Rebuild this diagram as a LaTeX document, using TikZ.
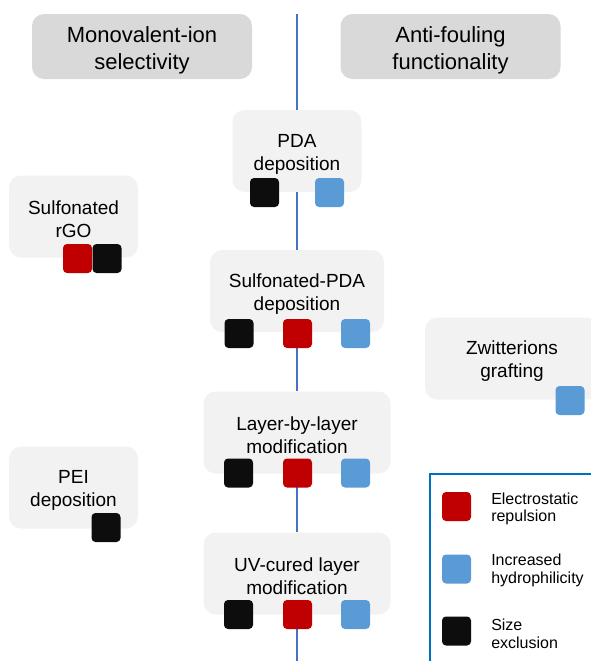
\documentclass[tikz,border=0pt]{standalone}
\usepackage{fontspec}
\setmainfont{Liberation Sans}
\definecolor{hdrgray}{HTML}{D9D9D9}
\definecolor{boxgray}{HTML}{F2F2F2}
\definecolor{sqred}{HTML}{C00000}
\definecolor{sqblue}{HTML}{5B9BD5}
\definecolor{sqblack}{HTML}{0D0D0D}
\definecolor{spineblue}{HTML}{4472C4}
\definecolor{legblue}{HTML}{0070C0}
\begin{document}
\begin{tikzpicture}[x=0.75pt,y=-0.75pt,
  header/.style={fill=hdrgray,rounded corners=9pt,minimum width=165pt,minimum height=48.75pt,inner sep=0pt},
  hdrtext/.style={align=center,inner sep=0pt,yshift=-3pt,font=\fontsize{16.5}{20.25}\selectfont},
  stepbox/.style={fill=boxgray,rounded corners=9pt,minimum height=61.5pt,inner sep=0pt},
  boxtext/.style={align=center,inner sep=0pt,yshift=-2.25pt,font=\fontsize{14.25}{17.25}\selectfont},
  narrow/.style={stepbox,minimum width=96.75pt},
  mid/.style={stepbox,minimum width=130.5pt},
  wide/.style={stepbox,minimum width=140.25pt},
  sq/.style={rounded corners=3pt,minimum width=21.75pt,minimum height=21.75pt,inner sep=0pt},
  redsq/.style={sq,fill=sqred},
  bluesq/.style={sq,fill=sqblue},
  blacksq/.style={sq,fill=sqblack},
  spine/.style={draw=spineblue,line width=2.1pt},
  legtext/.style={anchor=west,align=left,inner sep=0pt,font=\fontsize{12}{13.2}\selectfont}
]
\useasboundingbox (0,0) rectangle (591,661);

% headers
\node[header,label={[hdrtext]center:Monovalent-ion\\selectivity}] (hl) at (142,46.5) {};
\node[header,label={[hdrtext]center:Anti-fouling\\functionality}] (hr) at (450.5,46.5) {};

% spine coordinates
\coordinate (ltop) at (297,14);
\coordinate (lbot) at (297,661);

% central column
\node[narrow,label={[boxtext]center:PDA\\deposition}] (pda) at (297,151) {};
\node[mid,label={[boxtext]center:Sulfonated-PDA\\deposition}] (spda) at (297,291) {};
\node[wide,label={[boxtext]center:Layer-by-layer\\modification}] (lbl) at (297,432.5) {};
\node[wide,label={[boxtext]center:UV-cured layer\\modification}] (uv) at (297,573.5) {};

% side boxes
\node[narrow,label={[boxtext]center:Sulfonated\\rGO}] (rgo) at (73.5,216.5) {};
\node[narrow,label={[boxtext]center:PEI\\deposition}] (pei) at (73.5,487.5) {};
\node[mid,label={[boxtext]center:Zwitterions\\grafting}] (zw) at (512,358.5) {};

% spine connectors
\draw[spine] (ltop) -- (pda.north);
\draw[spine] (pda.south) -- (spda.north);
\draw[spine] (spda.south) -- (lbl.north);
\draw[spine] (lbl.south) -- (uv.north);
\draw[spine] (uv.south) -- (lbot);

% squares
\node[blacksq] (pdak) at (264.5,192.5) {};
\node[bluesq] (pdab) at (329.5,192.5) {};

\node[blacksq] (spdak) at (239,333.5) {};
\node[redsq] (spdar) at (297.5,333.5) {};
\node[bluesq] (spdab) at (355.5,333.5) {};

\node[blacksq] (lblk) at (238.5,473) {};
\node[redsq] (lblr) at (297.5,473) {};
\node[bluesq] (lblb) at (355.5,473) {};

\node[blacksq] (uvk) at (238.5,614.5) {};
\node[redsq] (uvr) at (297.5,614.5) {};
\node[bluesq] (uvb) at (355.5,614.5) {};

\node[redsq] (rgor) at (77.5,258.5) {};
\node[blacksq] (rgok) at (107,258.5) {};

\node[bluesq] (zwb) at (570,400.5) {};
\node[blacksq] (peik) at (106,527.5) {};

% legend
\node[draw=legblue,line width=1.75pt,anchor=north west,minimum width=200pt,minimum height=160pt,inner sep=0pt] (leg) at (429,473) {};
\node[redsq] (lgr) at (456.5,506.5) {};
\node[legtext] (lgrt) at (491,509) {Electrostatic\\repulsion};
\node[bluesq] (lgb) at (456.5,569) {};
\node[legtext] (lgbt) at (491,570.5) {Increased\\hydrophilicity};
\node[blacksq] (lgk) at (456.5,631) {};
\node[legtext] (lgkt) at (491,634) {Size\\exclusion};
\end{tikzpicture}
\end{document}
